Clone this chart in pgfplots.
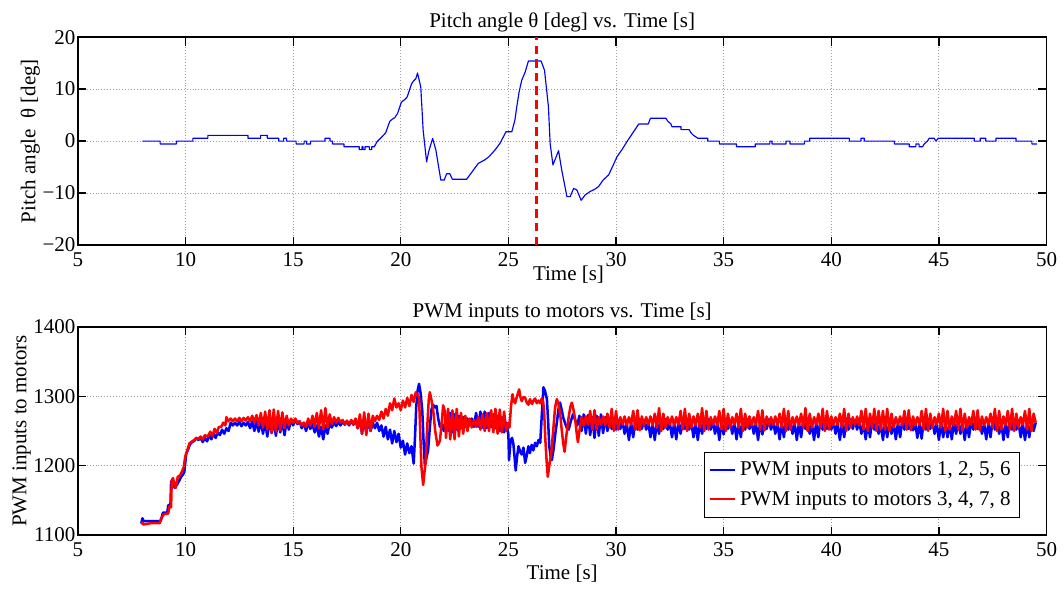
\documentclass[border=0pt]{standalone}
\usepackage{fontspec}
\setmainfont{Liberation Serif}
\usepackage{pgfplots}
\pgfplotsset{compat=1.18}
\pgfplotsset{
  mystyle/.style={
    scale only axis, width=461.4pt, height=99pt,
    xmin=5, xmax=50, xtick={5,10,...,50},
    grid=major, grid style={densely dotted, gray!75, line width=0.4pt},
    axis line style={line width=0.7pt},
    tick style={black, line width=0.6pt}, major tick length=4pt,
    tick align=inside,
    /pgf/number format/assume math mode=true,
    /pgf/number format/1000 sep={},
    tick label style={font=\fontsize{10}{12}\selectfont},
    yticklabel style={inner xsep=1pt},
    label style={font=\fontsize{10}{12}\selectfont},
    ylabel style={inner sep=0pt},
    ylabel shift=0pt,
    title style={font=\fontsize{10}{12}\selectfont, yshift=-7pt},
    xlabel={Time [s]},
  }
}
\begin{document}
\begin{tikzpicture}
\begin{axis}[mystyle, at={(0,0)}, anchor=south west,
  ymin=-20, ymax=20, ytick={-20,-10,0,10,20},
  yticklabels={−20,−10,0,10,20},
  title={Pitch angle θ [deg] vs. Time [s]},
  ylabel={Pitch angle\ \ θ [deg]},
  xlabel style={yshift=7pt, xshift=3pt}]
\addplot[blue, line width=0.55pt, line join=round] table {
x y
8.0 0
8.82 0
8.82 -0.55
9.58 -0.55
9.58 0
10.34 0
10.34 0.55
11.04 0.55
11.04 1.1
12.9 1.1
12.9 0.55
13.49 0.55
13.49 1.1
13.8 1.1
13.8 0.55
14.33 0.55
14.33 0
14.56 0
14.56 0.55
14.69 0.55
14.69 0
15.14 0
15.14 -0.55
15.51 -0.55
15.51 0
15.62 0
15.62 -0.55
15.81 -0.55
15.81 0
16.48 0
16.48 0.55
16.71 0.55
16.71 0
16.83 0
16.83 -0.55
17.36 -0.55
17.36 -1.1
18.07 -1.1
18.07 -1.65
18.2 -1.65
18.2 -1.1
18.25 -1.1
18.25 -1.65
18.34 -1.65
18.34 -1.1
18.54 -1.1
18.54 -1.65
18.65 -1.65
18.65 -1.1
18.77 -1.1
18.9 -0.1
19.1 0.7
19.3 1.6
19.49 3.8
19.6 4.2
19.72 4.5
19.85 5.3
20.03 7.5
20.19 8.0
20.3 8.5
20.5 11.0
20.6 11.6
20.7 12.0
20.78 13.1
20.93 10.4
21.04 2.1
21.2 -4.0
21.3 -2.0
21.48 0.5
21.63 -1.7
21.86 -7.5
22.02 -7.5
22.13 -6.3
22.28 -6.3
22.4 -7.35
23.06 -7.35
23.3 -6.0
23.6 -4.3
23.91 -3.6
24.1 -3.0
24.38 -1.7
24.6 -0.5
24.89 1.8
25.16 1.8
25.3 4.0
25.39 6.6
25.5 9.5
25.62 11.7
25.78 13.3
25.93 15.4
26.52 15.4
26.68 13.6
26.86 6.6
26.94 -0.45
27.07 -4.6
27.33 -1.85
27.48 -5.6
27.72 -10.7
27.87 -10.7
28.03 -9.1
28.18 -9.4
28.38 -11.4
28.57 -10.35
28.8 -9.7
29.0 -9.3
29.19 -8.75
29.4 -7.5
29.66 -6.5
29.85 -4.8
30.05 -3.0
30.3 -1.5
30.51 -0.1
30.8 1.7
31.06 3.3
31.5 3.3
31.55 3.85
31.6 4.4
32.32 4.4
32.4 3.85
32.55 3.3
32.6 2.75
33.02 2.75
33.02 2.2
33.4 2.2
33.47 1.65
33.6 1.1
33.8 0.55
34.26 0.55
34.26 0
34.8 0
34.8 -0.55
35.6 -0.55
35.6 -1.1
36.47 -1.1
36.47 -0.55
37.15 -0.55
37.15 0
37.25 0
37.25 -0.55
37.9 -0.55
37.9 0
38.08 0
38.08 -0.55
38.75 -0.55
38.75 0
39.0 0
39.0 0.55
40.84 0.55
40.84 0
41.38 0
41.38 0.55
41.53 0.55
41.53 0
42.93 0
42.93 -0.55
43.62 -0.55
43.62 -1.1
43.93 -1.1
43.93 -0.55
44.08 -0.55
44.08 -1.1
44.24 -1.1
44.32 -0.55
44.47 0
44.55 0.55
44.78 0.55
44.86 0
44.98 0.55
46.64 0.55
46.64 0
46.92 0
46.92 0.55
47.18 0.55
47.18 0
47.65 0
47.65 0.55
48.58 0.55
48.58 0
49.32 0
49.32 -0.55
49.55 -0.55
};
\addplot[red, dashed, dash pattern=on 4pt off 2.5pt, line width=1.4pt] coordinates {(26.3,-20) (26.3,20)};
\end{axis}

\begin{axis}[mystyle, at={(0,-138.1pt)}, anchor=south west,
  ymin=1100, ymax=1400, ytick={1100,1200,1300,1400},
  title={PWM inputs to motors vs. Time [s]},
  ylabel={PWM inputs to motors},
  xlabel style={yshift=3pt},
  legend style={at={(1,0)}, anchor=south east, xshift=-12.9pt, yshift=8pt,
    font=\fontsize{10}{12}\selectfont,
    inner xsep=2pt, inner ysep=2.5pt, row sep=2pt},
  legend cell align=left]
\addlegendimage{blue, line width=1pt, legend image code/.code={\draw[blue, line width=1pt] (0cm,0cm) -- (0.42cm,0cm);}}
\addlegendentry{PWM inputs to motors 1, 2, 5, 6}
\addlegendimage{red, line width=1pt, legend image code/.code={\draw[red, line width=1pt] (0cm,0.4pt) -- (0.42cm,0.4pt);}}
\addlegendentry{PWM inputs to motors 3, 4, 7, 8}
\addplot[color=blue, line width=1.2pt, line join=round, forget plot] table {
x y
7.95 1117
8.0 1124
8.05 1120
8.4 1120
8.85 1120
8.9 1126
8.95 1132
9.15 1132
9.2 1143
9.3 1143
9.33 1177
9.4 1176
9.45 1172
9.5 1168
9.55 1175
9.6 1172
9.7 1178
9.8 1184
9.9 1188
9.95 1192
10.03 1217
10.1 1222
10.2 1230
10.3 1234
10.42 1236
10.5 1240
10.6 1237
10.7 1240
10.8 1234
10.9 1240
11.0 1235
11.1 1244
11.2 1238
11.3 1246
11.4 1240
11.5 1248
11.6 1244
11.7 1252
11.8 1246
11.9 1254
12.0 1250
12.1 1262
12.2 1258
12.3 1262
12.4 1258
12.5 1263
12.6 1257
12.7 1262
12.8 1258
12.9 1263
13.0 1254
13.1 1264
13.2 1250
13.3 1264
13.4 1249
13.5 1265
13.6 1246
13.7 1264
13.8 1242
13.9 1265
14.0 1247
14.1 1264
14.2 1243
14.3 1265
14.4 1248
14.5 1264
14.6 1244
14.7 1265
14.8 1252
14.9 1266
15.0 1258
15.1 1267
15.2 1260
15.3 1264
15.4 1254
15.5 1262
15.6 1250
15.7 1262
15.8 1253
15.9 1260
16.0 1248
16.1 1258
16.2 1242
16.3 1256
16.4 1238
16.5 1258
16.6 1246
16.7 1262
16.8 1255
16.9 1263
17.0 1257
17.1 1264
17.2 1258
17.3 1264
17.4 1259
17.5 1264
17.6 1258
17.7 1265
17.8 1259
17.9 1266
18.0 1254
18.1 1268
18.2 1246
18.3 1266
18.4 1248
18.5 1264
18.6 1250
18.7 1262
18.8 1254
18.9 1262
19.0 1250
19.1 1258
19.2 1242
19.3 1256
19.4 1238
19.5 1252
19.6 1232
19.7 1250
19.8 1234
19.9 1246
20.0 1226
20.1 1236
20.2 1216
20.3 1232
20.4 1218
20.5 1228
20.6 1203
20.66 1240
20.72 1285
20.78 1308
20.85 1318
20.92 1305
21.0 1279
21.06 1235
21.12 1200
21.2 1212
21.27 1222
21.35 1255
21.42 1280
21.5 1288
21.58 1284
21.66 1286
21.74 1268
21.82 1256
21.9 1260
22.0 1250
22.1 1272
22.2 1250
22.3 1276
22.4 1248
22.5 1274
22.6 1252
22.7 1272
22.8 1254
22.9 1270
23.0 1256
23.1 1268
23.2 1258
23.3 1268
23.4 1256
23.5 1276
23.6 1256
23.7 1278
23.8 1255
23.9 1278
24.0 1254
24.1 1276
24.2 1256
24.3 1274
24.4 1254
24.5 1272
24.6 1250
24.7 1270
24.8 1248
24.9 1262
25.0 1245
25.03 1208
25.1 1236
25.17 1240
25.23 1232
25.28 1215
25.34 1193
25.4 1212
25.47 1228
25.55 1220
25.62 1216
25.7 1226
25.78 1204
25.85 1214
25.93 1228
26.0 1218
26.08 1230
26.16 1222
26.24 1233
26.32 1228
26.4 1237
26.48 1233
26.55 1272
26.63 1313
26.7 1308
26.79 1296
26.85 1262
26.9 1228
26.96 1214
27.02 1208
27.1 1224
27.18 1246
27.25 1262
27.33 1282
27.4 1291
27.48 1280
27.56 1268
27.65 1260
27.72 1254
27.8 1252
27.9 1264
28.0 1274
28.1 1266
28.2 1258
28.3 1272
28.4 1250
28.5 1274
28.6 1246
28.7 1273
28.8 1244
28.9 1270
29.0 1240
29.1 1272
29.2 1243
29.3 1274
29.4 1247
29.5 1270
29.6 1250
29.7 1266
29.8 1253
29.9 1267
30.0 1252
30.1 1266
30.2 1253
30.3 1264
30.4 1246
30.5 1261
30.6 1237
30.7 1262
30.8 1241
30.9 1266
31.0 1252
31.1 1267
31.2 1253
31.3 1266
31.4 1252
31.5 1262
31.6 1241
31.7 1261
31.8 1237
31.9 1264
32.0 1246
32.1 1266
32.2 1253
32.3 1267
32.4 1252
32.5 1262
32.6 1241
32.7 1261
32.8 1238
32.9 1264
33.0 1246
33.1 1266
33.2 1253
33.3 1267
33.4 1252
33.5 1262
33.6 1241
33.7 1261
33.8 1237
33.9 1264
34.0 1246
34.1 1266
34.2 1253
34.3 1267
34.4 1252
34.5 1264
34.6 1246
34.7 1261
34.8 1237
34.9 1264
35.0 1245
35.1 1266
35.2 1253
35.3 1264
35.4 1246
35.5 1261
35.6 1238
35.7 1262
35.8 1241
35.9 1266
36.0 1252
36.1 1267
36.2 1253
36.3 1264
36.4 1246
36.5 1261
36.6 1237
36.7 1264
36.8 1245
36.9 1266
37.0 1253
37.1 1267
37.2 1252
37.3 1264
37.4 1246
37.5 1261
37.6 1238
37.7 1262
37.8 1241
37.9 1266
38.0 1252
38.1 1264
38.2 1246
38.3 1261
38.4 1237
38.5 1262
38.6 1241
38.7 1266
38.8 1253
38.9 1264
39.0 1246
39.1 1261
39.2 1237
39.3 1262
39.4 1241
39.5 1267
39.6 1252
39.7 1266
39.8 1253
39.9 1267
40.0 1252
40.1 1264
40.2 1246
40.3 1261
40.4 1237
40.5 1262
40.6 1241
40.7 1266
40.8 1252
40.9 1267
41.0 1253
41.1 1266
41.2 1252
41.3 1264
41.4 1246
41.5 1261
41.6 1238
41.7 1262
41.8 1241
41.9 1266
42.0 1252
42.1 1264
42.2 1246
42.3 1261
42.4 1237
42.5 1262
42.6 1241
42.7 1264
42.8 1246
42.9 1261
43.0 1238
43.1 1262
43.2 1241
43.3 1266
43.4 1252
43.5 1267
43.6 1253
43.7 1266
43.8 1251
43.9 1262
44.0 1240
44.1 1262
44.2 1239
44.3 1266
44.4 1252
44.5 1267
44.6 1253
44.7 1264
44.8 1246
44.9 1261
45.0 1237
45.1 1262
45.2 1241
45.3 1262
45.4 1241
45.5 1261
45.6 1238
45.7 1264
45.8 1246
45.9 1264
46.0 1246
46.1 1261
46.2 1237
46.3 1262
46.4 1241
46.5 1266
46.6 1252
46.7 1267
46.8 1253
46.9 1264
47.0 1246
47.1 1261
47.2 1238
47.3 1262
47.4 1241
47.5 1266
47.6 1252
47.7 1264
47.8 1246
47.9 1261
48.0 1237
48.1 1262
48.2 1241
48.3 1266
48.4 1252
48.5 1267
48.6 1252
48.7 1262
48.8 1241
48.9 1261
49.0 1237
49.1 1262
49.2 1241
49.3 1266
49.4 1250
49.5 1262
};
\addplot[color=red, line width=1.2pt, line join=round, forget plot] table {
x y
7.95 1115
8.0 1118
8.05 1115
8.4 1117
8.8 1117
8.87 1124
9.0 1130
9.2 1131
9.25 1141
9.33 1140
9.36 1179
9.42 1182
9.49 1172
9.55 1168
9.64 1184
9.75 1186
9.84 1192
9.92 1198
9.98 1212
10.08 1222
10.18 1232
10.26 1234
10.4 1237
10.5 1240
10.58 1238
10.7 1242
10.8 1238
10.9 1244
11.04 1242
11.15 1249
11.25 1243
11.35 1253
11.45 1247
11.55 1256
11.66 1256
11.75 1262
11.85 1258
11.9 1270
11.98 1264
12.1 1268
12.2 1264
12.3 1268
12.4 1264
12.5 1269
12.6 1264
12.7 1269
12.8 1265
12.9 1270
13.0 1264
13.1 1272
13.2 1262
13.3 1273
13.4 1258
13.5 1276
13.6 1255
13.7 1278
13.8 1252
13.9 1280
14.0 1248
14.1 1281
14.2 1249
14.3 1279
14.4 1251
14.5 1277
14.6 1254
14.7 1272
14.8 1258
14.9 1268
15.0 1262
15.1 1268
15.2 1262
15.3 1264
15.4 1258
15.5 1262
15.6 1256
15.7 1268
15.8 1258
15.9 1272
16.0 1256
16.1 1276
16.2 1254
16.3 1280
16.4 1252
16.5 1283
16.6 1255
16.7 1274
16.8 1260
16.9 1270
17.0 1262
17.1 1269
17.2 1262
17.3 1266
17.4 1260
17.5 1265
17.6 1260
17.7 1266
17.8 1260
17.9 1268
18.0 1254
18.1 1274
18.2 1246
18.3 1277
18.4 1244
18.5 1275
18.6 1250
18.7 1272
18.8 1264
18.9 1272
19.0 1266
19.1 1278
19.2 1268
19.3 1282
19.4 1272
19.5 1290
19.6 1280
19.7 1297
19.8 1284
19.9 1290
20.0 1280
20.1 1294
20.2 1284
20.3 1298
20.4 1286
20.5 1302
20.6 1292
20.7 1306
20.78 1302
20.85 1299
20.9 1252
20.96 1198
21.04 1172
21.1 1190
21.15 1203
21.22 1250
21.3 1295
21.35 1306
21.42 1296
21.51 1279
21.6 1250
21.71 1229
21.76 1232
21.82 1236
21.9 1262
21.97 1287
22.05 1278
22.1 1240
22.2 1282
22.3 1238
22.4 1280
22.5 1238
22.6 1282
22.7 1242
22.8 1276
22.9 1246
23.0 1272
23.1 1250
23.2 1268
23.3 1255
23.4 1266
23.5 1256
23.6 1270
23.7 1252
23.8 1274
23.9 1250
24.0 1276
24.1 1250
24.2 1280
24.3 1248
24.4 1282
24.5 1246
24.6 1281
24.7 1248
24.8 1278
24.9 1250
25.0 1262
25.05 1255
25.12 1285
25.19 1303
25.25 1294
25.31 1290
25.4 1300
25.5 1310
25.56 1299
25.62 1293
25.7 1299
25.78 1298
25.85 1291
25.93 1288
26.0 1296
26.1 1289
26.17 1294
26.24 1297
26.32 1290
26.4 1294
26.48 1290
26.55 1297
26.62 1292
26.67 1272
26.71 1241
26.77 1210
26.83 1184
26.9 1200
26.99 1218
27.08 1250
27.17 1284
27.25 1296
27.33 1289
27.42 1270
27.48 1251
27.55 1232
27.61 1220
27.7 1245
27.8 1270
27.88 1285
27.95 1291
28.03 1280
28.11 1265
28.18 1245
28.23 1234
28.3 1250
28.4 1270
28.5 1258
28.6 1271
28.7 1259
28.8 1279
28.9 1252
29.0 1280
29.1 1252
29.2 1270
29.3 1259
29.4 1271
29.5 1258
29.6 1275
29.7 1255
29.8 1282
29.9 1250
30.0 1279
30.1 1252
30.2 1270
30.3 1259
30.4 1271
30.5 1258
30.6 1270
30.7 1259
30.8 1279
30.9 1252
31.0 1280
31.1 1251
31.2 1271
31.3 1258
31.4 1270
31.5 1259
31.6 1271
31.7 1258
31.8 1275
31.9 1255
32.0 1283
32.1 1250
32.2 1275
32.3 1255
32.4 1270
32.5 1259
32.6 1271
32.7 1258
32.8 1270
32.9 1259
33.0 1279
33.1 1252
33.2 1282
33.3 1250
33.4 1275
33.5 1255
33.6 1271
33.7 1258
33.8 1275
33.9 1255
34.0 1283
34.1 1250
34.2 1279
34.3 1252
34.4 1270
34.5 1259
34.6 1271
34.7 1258
34.8 1279
34.9 1252
35.0 1282
35.1 1250
35.2 1275
35.3 1255
35.4 1270
35.5 1259
35.6 1275
35.7 1255
35.8 1282
35.9 1250
36.0 1275
36.1 1255
36.2 1271
36.3 1258
36.4 1270
36.5 1259
36.6 1279
36.7 1252
36.8 1280
36.9 1251
37.0 1271
37.1 1258
37.2 1270
37.3 1259
37.4 1271
37.5 1258
37.6 1275
37.7 1255
37.8 1282
37.9 1250
38.0 1279
38.1 1252
38.2 1270
38.3 1259
38.4 1271
38.5 1258
38.6 1275
38.7 1255
38.8 1283
38.9 1250
39.0 1275
39.1 1255
39.2 1270
39.3 1259
39.4 1275
39.5 1255
39.6 1282
39.7 1250
39.8 1279
39.9 1252
40.0 1271
40.1 1258
40.2 1270
40.3 1259
40.4 1275
40.5 1255
40.6 1282
40.7 1250
40.8 1275
40.9 1255
41.0 1270
41.1 1259
41.2 1271
41.3 1258
41.4 1279
41.5 1252
41.6 1282
41.7 1250
41.8 1275
41.9 1255
42.0 1282
42.1 1250
42.2 1279
42.3 1252
42.4 1279
42.5 1252
42.6 1282
42.7 1250
42.8 1275
42.9 1255
43.0 1270
43.1 1259
43.2 1271
43.3 1258
43.4 1279
43.5 1252
43.6 1280
43.7 1251
43.8 1271
43.9 1258
44.0 1270
44.1 1259
44.2 1279
44.3 1252
44.4 1282
44.5 1250
44.6 1275
44.7 1255
44.8 1270
44.9 1259
45.0 1275
45.1 1255
45.2 1282
45.3 1250
45.4 1279
45.5 1252
45.6 1271
45.7 1258
45.8 1279
45.9 1252
46.0 1282
46.1 1250
46.2 1275
46.3 1255
46.4 1270
46.5 1259
46.6 1279
46.7 1252
46.8 1280
46.9 1251
47.0 1271
47.1 1258
47.2 1270
47.3 1259
47.4 1275
47.5 1255
47.6 1282
47.7 1250
47.8 1279
47.9 1252
48.0 1271
48.1 1258
48.2 1279
48.3 1252
48.4 1282
48.5 1250
48.6 1275
48.7 1255
48.8 1270
48.9 1259
49.0 1279
49.1 1252
49.2 1282
49.3 1250
49.4 1275
49.5 1262
};
\end{axis}
\path (-37.1pt,-161pt) rectangle (469.5pt,116.7pt);
\end{tikzpicture}
\end{document}
